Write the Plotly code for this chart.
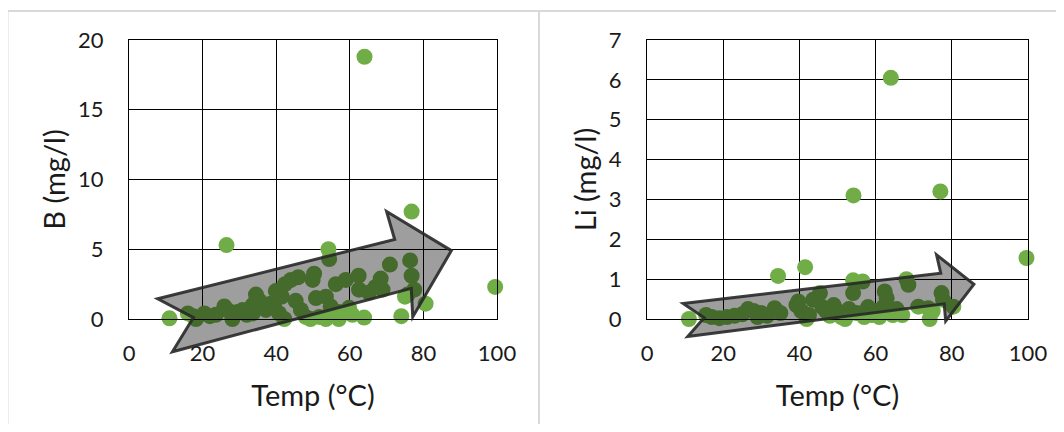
import plotly.graph_objects as go

# ---------------- data ----------------
temp_b = [11, 16, 17.5, 18.2, 20.5, 22, 23.6, 25.9, 26.5, 27, 28.1, 29.5, 30.9, 32, 33.6, 33.6,
          34.5, 35.5, 37.2, 38.5, 39.5, 39.9, 40.8, 41.5, 42.2, 42.4, 44, 45.3, 46, 46.7, 48,
          49.3, 49.9, 50.3, 50.8, 51.7, 53.5, 53.5, 54.2, 54.4, 54.8, 56.2, 57, 57.1, 58.9,
          59.8, 60.7, 62.4, 62.5, 64, 63.9, 65.2, 67, 68.4, 68.9, 70.9, 74, 75, 75.7, 76.4,
          76.8, 76.8, 77.5, 80.6, 99.5]
boron = [0.05, 0.4, 0.2, 0.0, 0.4, 0.2, 0.3, 0.9, 5.3, 0.6, 0.0, 0.5, 0.65, 0.3, 1.0, 0.4,
         1.75, 1.3, 0.65, 1.1, 0.8, 2.0, 0.4, 1.6, 0.0, 2.5, 2.8, 1.3, 3.0, 0.65, 0.15,
         0.0, 2.8, 3.25, 1.5, 0.15, 1.6, 0.0, 5.0, 4.3, 0.9, 2.5, 0.0, 0.5, 2.8,
         0.8, 0.3, 3.1, 2.1, 18.8, 0.1, 1.9, 2.3, 2.9, 2.1, 3.9, 0.2, 1.6, 1.75, 4.2,
         7.7, 3.1, 2.1, 1.1, 2.3]

temp_li = [11, 15.5, 17, 19, 21, 23, 25, 26.5, 28, 29, 30, 31.5, 33.5, 34.4, 35, 39.2, 39.7,
           40.5, 41.5, 41.9, 42.5, 43.6, 45.4, 46, 47, 48, 49, 50, 51, 52, 53, 54.1, 54.1,
           54.2, 55, 56.6, 57, 58, 59, 60, 61, 62, 62.4, 62.9, 64, 64.5, 65.5, 66, 67, 68.1,
           68.6, 71.2, 73.8, 74.2, 75, 77, 77.3, 77.7, 80.4, 99.6]
lithium = [0.0, 0.1, 0.05, 0.02, 0.05, 0.08, 0.12, 0.25, 0.2, 0.05, 0.15, 0.08, 0.27, 1.08,
           0.15, 0.35, 0.44, 0.2, 1.3, 0.0, 0.1, 0.48, 0.65, 0.3, 0.2, 0.08, 0.35, 0.2, 0.05,
           0.0, 0.25, 0.97, 0.65, 3.1, 0.15, 0.94, 0.05, 0.3, 0.1, 0.2, 0.05, 0.3, 0.69, 0.52,
           6.05, 0.1, 0.25, 0.15, 0.1, 1.0, 0.86, 0.31, 0.27, 0.0, 0.2, 3.2, 0.65, 0.48, 0.31,
           1.53]

# trend arrows (block arrow outlines, in data units: temp, value)
arrow_b = [(7.8, 1.45), (72.2, 5.7), (70.0, 7.7), (87.6, 4.9), (77.1, 0.15), (76.7, 2.2),
           (11.8, -2.35), (17.5, 0.1)]
arrow_li = [(9.5, 0.39), (77.1, 1.15), (76.0, 1.61), (85.8, 0.87), (78.4, -0.05), (78.0, 0.38),
            (10.7, -0.44), (15.0, 0.03)]

x_ticks = [0, 20, 40, 60, 80, 100]
b_ticks = [0, 5, 10, 15, 20]
li_ticks = [0, 1, 2, 3, 4, 5, 6, 7]

# ---------------- layout geometry ----------------
# page is 1064x432 with the default 8px body margin around the figure
OFF = 8
W, H = 1064 - 2 * OFF, 432 - 2 * OFF


def fx(px):
    return (px - OFF) / W


def fy(py):
    return 1 - (py - OFF) / H


xdom1 = [fx(129), fx(497)]
xdom2 = [fx(647), fx(1028)]
ydom = [fy(319), fy(40)]
xr = [0, 100]
yr1 = [0, 20]
yr2 = [0, 7]

GREEN = "#70AD47"
FONT = "Lato, 'Open Sans', sans-serif"
TICK_SIZE = 22
TITLE_SIZE = 29

fig = go.Figure()
for tx, vy, ax in [(temp_b, boron, ("x", "y")), (temp_li, lithium, ("x2", "y2"))]:
    fig.add_trace(go.Scatter(
        x=tx, y=vy, xaxis=ax[0], yaxis=ax[1], mode="markers",
        marker=dict(size=16, color=GREEN, line=dict(width=0)),
        cliponaxis=False, showlegend=False, hoverinfo="x+y"))


def to_paper(pts, xd, yd, xrange_, yrange_):
    out = []
    for t, v in pts:
        px = xd[0] + (t - xrange_[0]) / (xrange_[1] - xrange_[0]) * (xd[1] - xd[0])
        py = yd[0] + (v - yrange_[0]) / (yrange_[1] - yrange_[0]) * (yd[1] - yd[0])
        out.append((px, py))
    return out


def path_of(pts):
    return "M " + " L ".join(f"{x:.5f},{y:.5f}" for x, y in pts) + " Z"


shapes = []
for pts, xd, yr_ in [(arrow_b, xdom1, yr1), (arrow_li, xdom2, yr2)]:
    shapes.append(dict(type="path", xref="paper", yref="paper", layer="above",
                       path=path_of(to_paper(pts, xd, ydom, xr, yr_)),
                       fillcolor="rgba(0,0,0,0.38)",
                       line=dict(color="rgba(40,40,40,0.9)", width=3)))

# panel borders
BORDER = "#d9d9d9"
shapes += [
    dict(type="line", xref="paper", yref="paper", x0=fx(7.5), x1=1.02, y0=fy(11), y1=fy(11),
         line=dict(color=BORDER, width=2), layer="below"),
    dict(type="line", xref="paper", yref="paper", x0=fx(7.5), x1=fx(7.5), y0=-0.05, y1=fy(11),
         line=dict(color=BORDER, width=2), layer="below"),
    dict(type="line", xref="paper", yref="paper", x0=fx(539), x1=fx(539), y0=-0.05, y1=fy(11),
         line=dict(color=BORDER, width=2), layer="below"),
]

axis_common = dict(showgrid=True, gridcolor="#000000", gridwidth=1, zeroline=False,
                   showline=True, linecolor="#000000", linewidth=1, mirror=True,
                   ticks="", tickfont=dict(family=FONT, size=TICK_SIZE, color="#1a1a1a"),
                   fixedrange=True, automargin=False)

xt = dict(text="Temp (°C)", font=dict(size=TITLE_SIZE), standoff=20)

fig.update_layout(
    width=W, height=H, autosize=False,
    margin=dict(l=0, r=0, t=0, b=0, pad=0, autoexpand=False),
    paper_bgcolor="white", plot_bgcolor="white",
    font=dict(family=FONT, color="#1a1a1a"),
    shapes=shapes,
    xaxis=dict(domain=xdom1, range=xr, tickvals=x_ticks, anchor="y", ticklabelstandoff=15,
               title=xt, **axis_common),
    yaxis=dict(domain=ydom, range=yr1, tickvals=b_ticks, anchor="x", ticklabelstandoff=20,
               title=dict(text="B (mg/l)", font=dict(size=TITLE_SIZE), standoff=3), **axis_common),
    xaxis2=dict(domain=xdom2, range=xr, tickvals=x_ticks, anchor="y2", ticklabelstandoff=15,
                title=xt, **axis_common),
    yaxis2=dict(domain=ydom, range=yr2, tickvals=li_ticks, anchor="x2", ticklabelstandoff=20,
                title=dict(text="Li (mg/l)", font=dict(size=TITLE_SIZE), standoff=3), **axis_common),
)

fig.write_html("out.html")
